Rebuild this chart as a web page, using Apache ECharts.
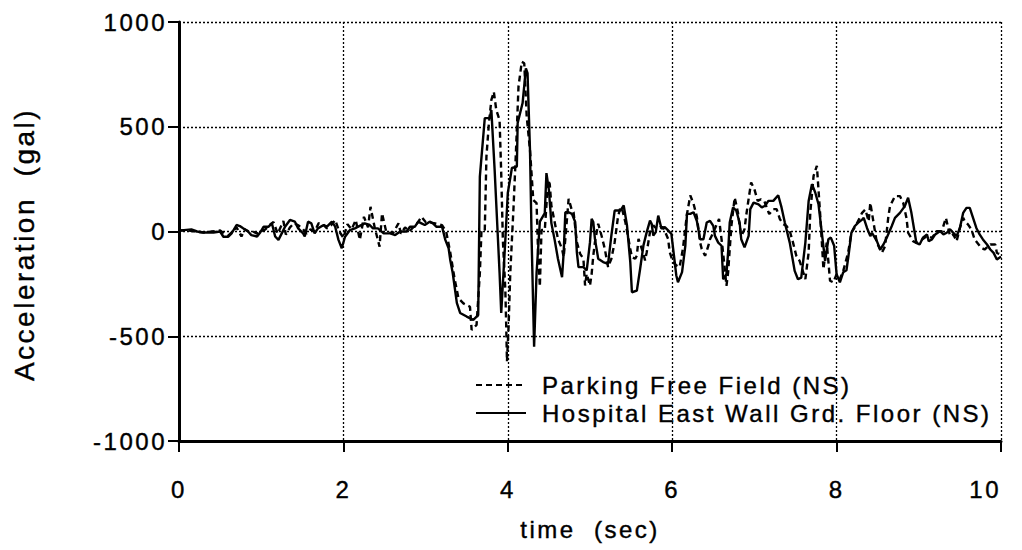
<!DOCTYPE html>
<html>
<head>
<meta charset="utf-8">
<script src="https://cdn.jsdelivr.net/npm/echarts@6/dist/echarts.min.js"></script>
<style>
  html, body { margin: 0; padding: 0; background: #fff; }
  #chart { width: 1022px; height: 550px; }
  /* wide tracking and a slightly heavier stroke on every label, like the old plotter typeface */
  #chart svg text { letter-spacing: 2.5px; stroke: #000; stroke-width: 0.4px; }
</style>
</head>
<body>
<div id="chart"></div>
<script>
// Acceleration records (gal) against time (sec), NS component.
const seriesNames = ['Parking Free Field (NS)', 'Hospital East Wall Grd. Floor (NS)'];

const parkingTime = [
  0, 0.1, 0.2, 0.3, 0.4, 0.5, 0.55, 0.6, 0.65, 0.7, 0.76, 0.8, 0.85, 0.9, 0.95, 1.0, 1.05, 1.1, 1.15, 1.2,
  1.27, 1.3, 1.35, 1.4, 1.45, 1.5, 1.55, 1.6, 1.65, 1.7, 1.75, 1.8, 1.85, 1.9, 1.95, 2.0, 2.05, 2.1, 2.15, 2.2,
  2.25, 2.3, 2.33, 2.38, 2.44, 2.47, 2.52, 2.6, 2.67, 2.7, 2.75, 2.8, 2.9, 2.95, 3.0, 3.1, 3.2, 3.25, 3.3, 3.35,
  3.4, 3.46, 3.54, 3.56, 3.62, 3.66, 3.68, 3.72, 3.74, 3.77, 3.8, 3.83, 3.86, 3.9, 3.92, 3.94, 3.97, 3.98, 3.99, 4.01,
  4.03, 4.07, 4.1, 4.13, 4.17, 4.2, 4.23, 4.27, 4.31, 4.35, 4.37, 4.39, 4.41, 4.45, 4.49, 4.51, 4.53, 4.57, 4.61, 4.66,
  4.68, 4.7, 4.74, 4.78, 4.8, 4.84, 4.88, 4.92, 4.94, 4.96, 5.0, 5.02, 5.04, 5.06, 5.1, 5.14, 5.18, 5.22, 5.26, 5.3,
  5.34, 5.37, 5.39, 5.43, 5.49, 5.51, 5.55, 5.57, 5.59, 5.61, 5.65, 5.67, 5.69, 5.73, 5.77, 5.81, 5.85, 5.89, 5.95, 5.97,
  6.01, 6.05, 6.09, 6.13, 6.18, 6.22, 6.26, 6.3, 6.34, 6.36, 6.4, 6.44, 6.46, 6.5, 6.57, 6.61, 6.64, 6.66, 6.68, 6.7,
  6.72, 6.76, 6.8, 6.82, 6.84, 6.88, 6.9, 6.92, 6.96, 7.0, 7.04, 7.08, 7.12, 7.18, 7.23, 7.27, 7.31, 7.35, 7.39, 7.43,
  7.47, 7.51, 7.55, 7.62, 7.66, 7.68, 7.72, 7.76, 7.8, 7.84, 7.88, 7.92, 7.96, 8.0, 8.04, 8.08, 8.14, 8.18, 8.24, 8.31,
  8.35, 8.39, 8.41, 8.45, 8.49, 8.55, 8.59, 8.63, 8.65, 8.71, 8.77, 8.81, 8.85, 8.87, 8.93, 8.97, 9.04, 9.1, 9.16, 9.22,
  9.28, 9.33, 9.38, 9.42, 9.46, 9.5, 9.54, 9.56, 9.6, 9.64, 9.68, 9.76, 9.8, 9.87, 9.93, 9.95, 10.0
];
const parkingAccel = [
  5, 5, 0, -5, 0, 5, -10, -20, 0, 20, -24, 10, 0, 0, -10, 0, 10, 30, 45, -10,
  50, -15, 20, 40, 30, 15, -10, 10, 0, 40, 35, 15, 30, 55, 0, -30, 35, 10, 55, -40,
  70, 20, 118, 20, -72, 87, 0, -10, 39, -10, 20, 0, 40, 70, 45, 40, 30, 0, -100, -220,
  -319, -343, -359, -470, -446, -199, 7, 7, 357, 516, 628, 667, 580, 532, 278, -40, -279, -438, -620, -450,
  -199, 118, 389, 691, 810, 803, 548, 389, 150, 135, -120, -263, 7, 7, 246, 227, 124, 45, -35, -83,
  -122, -35, 156, 100, 92, -51, -107, -130, -258, -202, -258, -202, -115, -51, 37, -19, -83, -170, -130, -51,
  68, 116, 108, 45, -83, -122, -130, -115, -35, -59, -107, -138, -99, -3, 29, 13, 21, 21, -35, -99,
  -146, -162, -170, -83, 84, 172, 132, 70, -53, -84, -116, -68, -37, -5, 60, -68, -180, -259, -196, -84,
  27, 162, 91, 27, -21, 11, 75, 130, 234, 202, 146, 154, 146, 83, 107, 107, 59, 35, 27, 3,
  -53, -116, -140, -227, -100, 91, 266, 313, 83, -180, -53, -235, -243, -204, -227, -189, -102, -6, 33, 89,
  105, 49, 137, 41, -54, -102, -70, 73, 121, 169, 169, 137, 65, -6, -46, -54, -38, -22, -30, 2,
  2, 65, -22, -14, -46, 17, 65, 49, 33, 10, -38, -78, -86, -62, -62, -102, -110
];

const hospitalTime = [
  0, 0.15, 0.22, 0.3, 0.42, 0.5, 0.54, 0.6, 0.64, 0.7, 0.74, 0.78, 0.84, 0.88, 0.95, 0.985, 1.03, 1.09, 1.13, 1.17,
  1.21, 1.25, 1.29, 1.35, 1.41, 1.45, 1.51, 1.53, 1.57, 1.61, 1.65, 1.69, 1.76, 1.8, 1.86, 1.9, 1.94, 1.98, 2.02, 2.08,
  2.14, 2.18, 2.26, 2.32, 2.36, 2.42, 2.49, 2.57, 2.63, 2.69, 2.77, 2.81, 2.87, 2.91, 2.95, 2.99, 3.05, 3.09, 3.13, 3.2,
  3.24, 3.28, 3.3, 3.33, 3.38, 3.42, 3.5, 3.58, 3.64, 3.66, 3.72, 3.78, 3.8, 3.84, 3.9, 3.92, 3.97, 4.0, 4.05, 4.11,
  4.12, 4.18, 4.22, 4.24, 4.27, 4.29, 4.32, 4.35, 4.39, 4.45, 4.47, 4.5, 4.53, 4.57, 4.61, 4.66, 4.68, 4.7, 4.74, 4.78,
  4.82, 4.84, 4.86, 4.92, 4.96, 5.0, 5.02, 5.04, 5.06, 5.1, 5.16, 5.22, 5.26, 5.3, 5.37, 5.41, 5.45, 5.49, 5.51, 5.57,
  5.61, 5.65, 5.69, 5.73, 5.75, 5.77, 5.8, 5.83, 5.87, 5.91, 5.95, 5.99, 6.05, 6.07, 6.12, 6.16, 6.18, 6.22, 6.26, 6.3,
  6.34, 6.38, 6.42, 6.46, 6.5, 6.52, 6.56, 6.6, 6.62, 6.66, 6.68, 6.7, 6.74, 6.78, 6.82, 6.84, 6.88, 6.93, 6.95, 6.99,
  7.05, 7.09, 7.13, 7.17, 7.23, 7.29, 7.33, 7.37, 7.43, 7.49, 7.53, 7.57, 7.62, 7.66, 7.7, 7.74, 7.78, 7.82, 7.86, 7.9,
  7.93, 7.97, 8.0, 8.04, 8.08, 8.12, 8.15, 8.18, 8.22, 8.26, 8.31, 8.33, 8.37, 8.41, 8.43, 8.49, 8.53, 8.57, 8.61, 8.67,
  8.71, 8.77, 8.83, 8.87, 8.91, 8.95, 8.97, 9.01, 9.05, 9.1, 9.12, 9.16, 9.2, 9.26, 9.3, 9.34, 9.38, 9.42, 9.46, 9.5,
  9.54, 9.58, 9.62, 9.66, 9.7, 9.74, 9.78, 9.83, 9.87, 9.91, 9.95, 10.0
];
const hospitalAccel = [
  4, 10, 0, -5, -5, 0, -25, -25, -9, 31, 26, 15, 0, -17, -24, -6, 23, 23, 39, -24,
  -40, -9, 23, 55, 47, 15, -9, -24, 47, 39, -9, 15, 31, 23, 47, 23, -40, -80, -25, 7,
  15, 23, 39, 31, 15, 15, -9, -9, -17, 0, 0, 23, 23, 47, 39, 31, 47, 39, 23, 23,
  -40, -80, -136, -198, -341, -389, -406, -422, -399, 262, 541, 541, 580, 293, -198, -389, -40, 184, 303, 310,
  518, 613, 779, 756, 389, -40, -550, -198, 47, 88, 279, 198, 40, -40, -130, -218, -99, 92, 92, 84,
  45, -99, -170, -170, -186, -51, 60, 45, -35, -130, -146, -154, -19, 100, 100, 124, 29, -146, -290, -282,
  -178, -67, -3, 52, 37, -19, -3, 76, 13, 21, 5, -11, -210, -242, -194, -67, 84, 84, 92, 50,
  -37, -37, 43, 51, 27, -21, -53, -68, -228, -204, -100, 43, 115, 99, 43, -37, -76, -21, 107, 138,
  130, 115, 123, 146, 146, 173, 115, 43, -53, -188, -228, -220, -53, 146, 226, 186, 130, -5, -140, -37,
  -29, -68, -204, -243, -195, -185, -100, -6, 25, 41, 57, 65, 17, -22, -6, -46, -86, -62, -30, 25,
  65, 89, 121, 161, 89, -6, -54, -62, -30, -14, -46, -38, -14, 2, -14, -6, 10, -6, -22, 17,
  89, 113, 113, 65, 17, -14, -38, -62, -86, -102, -134, -120
];

const xTicks = { min: 0, max: 10, interval: 2 };
const yTicks = { min: -1000, max: 1000, interval: 500 };

const toPairs = (ts, vs) => ts.map((t, i) => [t, vs[i]]);
// plain numerals, no thousands separator
const plain = v => String(v);

const FONT = '"Liberation Sans", Arial, Helvetica, sans-serif';
const chart = echarts.init(document.getElementById('chart'), null, { renderer: 'svg' });

const dotted = { color: '#000', width: 1.3, type: [2, 2] };

chart.setOption({
  animation: false,
  backgroundColor: '#fff',
  grid: { left: 179, right: 21, top: 22, bottom: 109, containLabel: false },
  legend: {
    orient: 'vertical',
    left: 475,
    top: 371,
    padding: 0,
    itemGap: 0,
    itemWidth: 50,
    itemHeight: 14,
    itemStyle: { opacity: 0 },
    textStyle: { fontFamily: FONT, fontSize: 24, lineHeight: 28, color: '#000', padding: [0, 0, 0, 11] },
    data: seriesNames
  },
  xAxis: {
    type: 'value',
    min: xTicks.min, max: xTicks.max, interval: xTicks.interval,
    name: 'time  (sec)',
    nameLocation: 'middle',
    nameGap: 76,
    nameTextStyle: { fontFamily: FONT, fontSize: 24, color: '#000' },
    axisLine: { onZero: false, lineStyle: { color: '#000', width: 3 } },
    axisTick: { inside: false, length: 11, lineStyle: { color: '#000', width: 2 } },
    axisLabel: { margin: 36, fontFamily: FONT, fontSize: 24, color: '#000', alignMaxLabel: 'right', formatter: plain },
    splitLine: { show: true, lineStyle: dotted }
  },
  yAxis: {
    type: 'value',
    min: yTicks.min, max: yTicks.max, interval: yTicks.interval,
    name: 'Acceleration  (gal)',
    nameLocation: 'middle',
    nameGap: 141,
    nameTextStyle: { fontFamily: FONT, fontSize: 28, color: '#000', padding: [0, 26, 0, 0] },
    axisLine: { onZero: false, lineStyle: { color: '#000', width: 3 } },
    axisTick: { inside: false, length: 11, lineStyle: { color: '#000', width: 2 } },
    axisLabel: { margin: 12, fontFamily: FONT, fontSize: 24, color: '#000', formatter: plain },
    splitLine: { show: true, lineStyle: dotted }
  },
  series: [
    {
      name: seriesNames[0],
      type: 'line',
      data: toPairs(parkingTime, parkingAccel),
      symbol: 'none',
      lineStyle: { color: '#000', width: 2.4, type: [6, 4] },
      itemStyle: { color: '#000' },
      z: 3
    },
    {
      name: seriesNames[1],
      type: 'line',
      data: toPairs(hospitalTime, hospitalAccel),
      symbol: 'none',
      lineStyle: { color: '#000', width: 2.4, type: 'solid' },
      itemStyle: { color: '#000' },
      z: 4
    }
  ]
});
</script>
</body>
</html>
